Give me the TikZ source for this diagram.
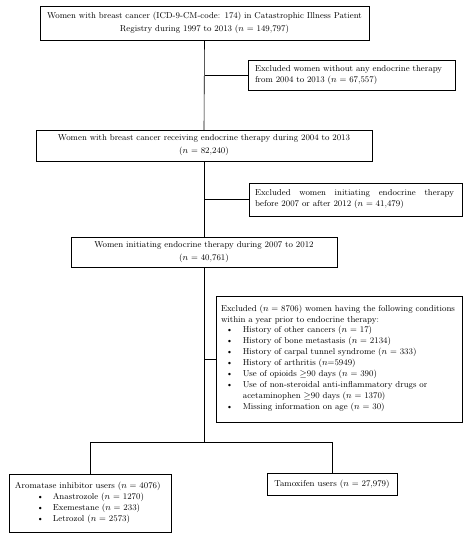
\documentclass[tikz,border=0pt]{standalone}
\usepackage{amsmath}
\usepackage{xcolor}
\usepackage{tikz}

\begin{document}
\begin{tikzpicture}[
  x=1pt, y=-1pt,
  every node/.style={draw, inner ysep=0pt},
  box/.style={align=center, inner xsep=4pt, font=\fontsize{8.6}{13}\selectfont},
  excl/.style={align=left, inner xsep=6pt, font=\fontsize{8.6}{11}\selectfont},
  link/.style={line width=0.6pt}
]
  \useasboundingbox (0,0) rectangle (471,550);
  % main stream
  \node[box, text width=321pt, minimum height=34pt] (registry) at (204.5,23)
    {Women with breast cancer (ICD-9-CM-code: 174) in Catastrophic Illness Patient\\
     Registry during 1997 to 2013 ($n$ = 149,797)};
  \node[box, text width=328pt, minimum height=31pt] (receiving) at (204,145.5)
    {Women with breast cancer receiving endocrine therapy during 2004 to 2013\\
     ($n$ = 82,240)};
  \node[box, text width=258pt, minimum height=30pt] (initiating) at (204,252)
    {Women initiating endocrine therapy during 2007 to 2012\\
     ($n$ = 40,761)};
  % exclusions
  \node[excl, inner xsep=7pt, text width=193pt, minimum height=30pt] (noendo) at (351.5,75)
    {Excluded women without any endocrine therapy\\
     from 2004 to 2013 ($n$ = 67,557)};
  \node[excl, text width=201pt, minimum height=33pt] (outside) at (355.5,199.5)
    {\hbox to 199pt{Excluded\hfill women\hfill initiating\hfill endocrine\hfill therapy}\\
     before 2007 or after 2012 ($n$ = 41,479)};
  \node[excl, inner xsep=5pt, text width=236pt, minimum height=126pt] (conditions) at (339,359)
    {\noindent Excluded ($n$ = 8706) women having the following conditions\\
     within a year prior to endocrine therapy:\par\noindent
     \begin{tabular}{@{\hspace{5pt}}l@{\hspace{10pt}}l@{}}
       \textbullet & History of other cancers ($n$ = 17)\\
       \textbullet & History of bone metastasis ($n$ = 2134)\\
       \textbullet & History of carpal tunnel syndrome ($n$ = 333)\\
       \textbullet & History of arthritis ($n$=5949)\\
       \textbullet & Use of opioids $\geq$90 days ($n$ = 390)\\
       \textbullet & Use of non-steroidal anti-inflammatory drugs or\\
                   & acetaminophen $\geq$90 days ($n$ = 1370)\\
       \textbullet & Missing information on age ($n$ = 30)
     \end{tabular}};
  % outcome groups
  \node[excl, text width=150pt, minimum height=58pt] (aromatase) at (90,503)
    {\noindent Aromatase inhibitor users ($n$ = 4076)\par\noindent
     \begin{tabular}{@{\hspace{22pt}}l@{\hspace{9pt}}l@{}}
       \textbullet & Anastrozole ($n$ = 1270)\\
       \textbullet & Exemestane ($n$ = 233)\\
       \textbullet & Letrozol ($n$ = 2573)
     \end{tabular}};
  \node[box, minimum width=130pt, minimum height=22pt] (tamoxifen) at (332,484)
    {Tamoxifen users ($n$ = 27,979)};
  % connectors
  \coordinate (split) at (204,442);
  \draw[link] (registry.south) -- (receiving.north);
  \draw[link] (receiving.south) -- (initiating.north);
  \draw[link] (initiating.south) -- (split);
  \draw[link] (noendo.west) -- (noendo.west -| registry.south);
  \draw[link] (outside.west) -- (outside.west -| receiving.south);
  \draw[link] (conditions.west) -- (conditions.west -| initiating.south);
  \draw[link] (aromatase.north) -- (aromatase.north |- split) -- (tamoxifen.north |- split) -- (tamoxifen.north);
\end{tikzpicture}
\end{document}
